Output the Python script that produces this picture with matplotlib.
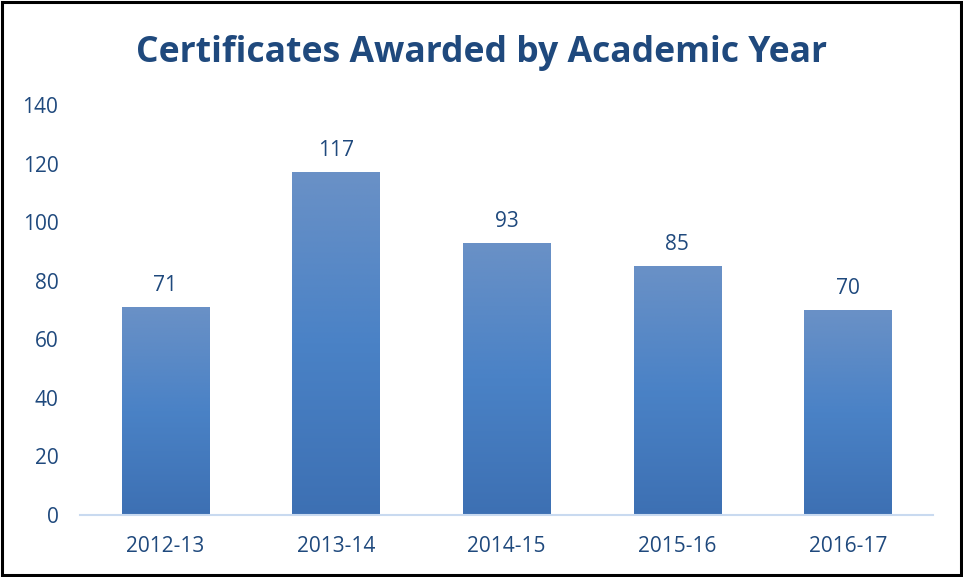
import numpy as np
import matplotlib
matplotlib.use("Agg")
import matplotlib.pyplot as plt
from matplotlib.colors import LinearSegmentedColormap
from matplotlib.patches import Rectangle

# ── data ────────────────────────────────────────────────────────────────────
years = ["2012-13", "2013-14", "2014-15", "2015-16", "2016-17"]
certificates = [71, 117, 93, 85, 70]
y_ticks = [0, 20, 40, 60, 80, 100, 120, 140]

TEXT_BLUE = "#1F497D"
plt.rcParams["font.family"] = ["Open Sans", "DejaVu Sans"]

fig = plt.figure(figsize=(9.63, 5.77), dpi=100)
ax = fig.add_axes([0.083, 0.1075, 0.886, 0.7105])

x = np.arange(len(years))
bars = ax.bar(x, certificates, width=0.51, color="none", edgecolor="none")

# vertical gradient inside each bar (lighter at top)
grad = LinearSegmentedColormap.from_list("bar", ["#3D70B3", "#4A82C6", "#6A91C6"])
for b in bars:
    x0, y0 = b.get_x(), b.get_y()
    w, h = b.get_width(), b.get_height()
    img = ax.imshow(np.linspace(0, 1, 256).reshape(-1, 1), cmap=grad,
                    origin="lower", aspect="auto",
                    extent=[x0, x0 + w, y0, y0 + h], zorder=2)
    img.set_clip_path(b)

for xi, v in zip(x, certificates):
    ax.text(xi, v + 3.8, str(v), ha="center", va="bottom",
            fontsize=15, color=TEXT_BLUE)

ax.set_xlim(-0.5, len(years) - 0.5)
ax.set_ylim(0, 140)
ax.set_yticks(y_ticks)
ax.set_xticks(x)
ax.set_xticklabels(years)
ax.tick_params(axis="both", length=0, labelsize=15, colors=TEXT_BLUE)
ax.tick_params(axis="y", pad=15.5)
ax.tick_params(axis="x", pad=15)
for s in ["top", "right", "left"]:
    ax.spines[s].set_visible(False)
ax.spines["bottom"].set_color("#C9DAF0")
ax.spines["bottom"].set_linewidth(1.5)

fig.text(0.5, 0.908, "Certificates Awarded by Academic Year", ha="center",
         va="center", fontsize=25.6, fontweight="bold", color=TEXT_BLUE)

# black frame round the figure
fig.patches.append(Rectangle((0.002, 0.003), 0.996, 0.994, transform=fig.transFigure,
                             fill=False, edgecolor="black", linewidth=2.2))

fig.savefig("out.png", dpi=100)
